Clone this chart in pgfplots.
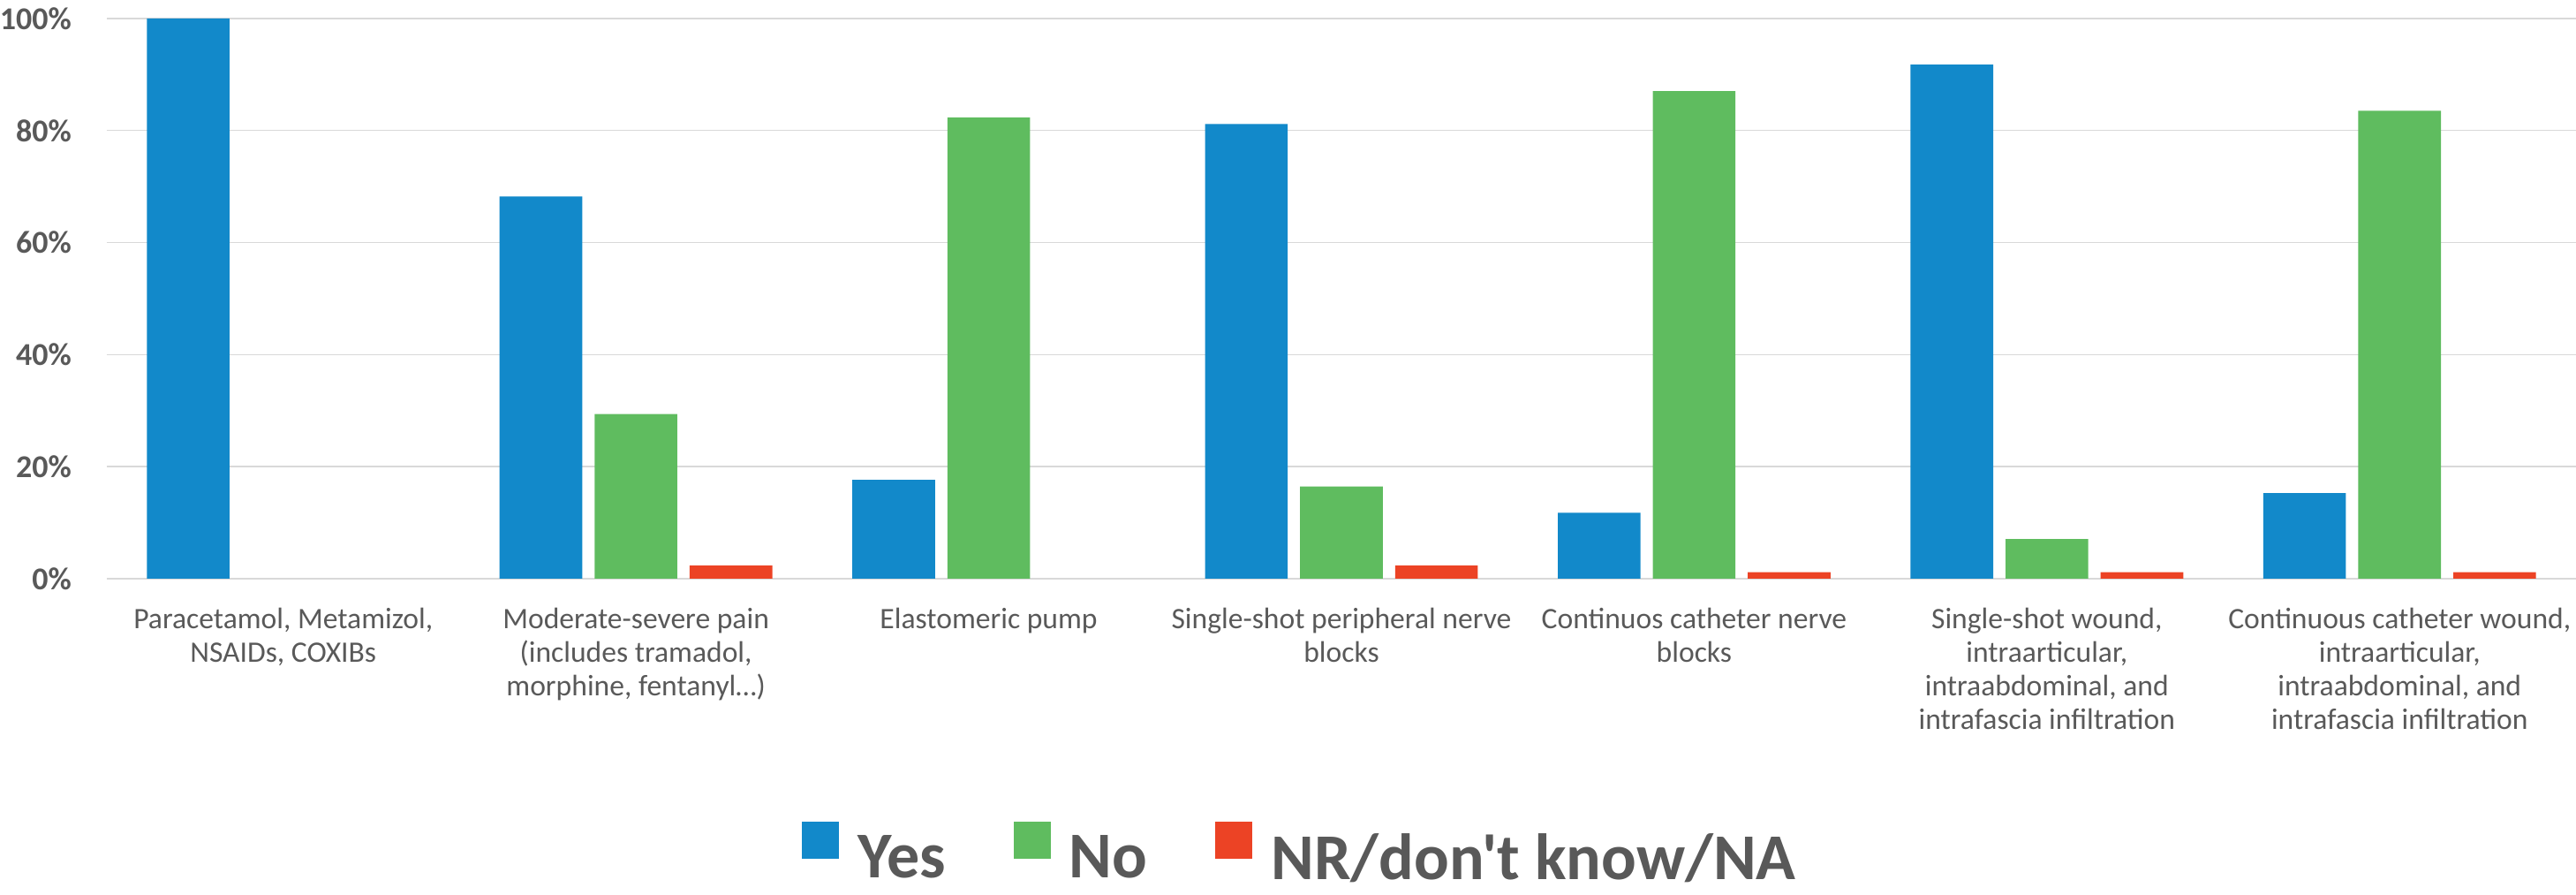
\documentclass[border=0pt]{standalone}
\usepackage{fontspec}
\setmainfont{Carlito}[Ligatures=TeXOff]
\usepackage{pgfplots}
\pgfplotsset{compat=1.18}
\definecolor{cYes}{HTML}{1289CA}
\definecolor{cNo}{HTML}{5FBC5F}
\definecolor{cNR}{HTML}{EC4325}
\definecolor{txt}{HTML}{595959}
\definecolor{gridc}{HTML}{D9D9D9}
\begin{document}
\begin{tikzpicture}
\begin{axis}[
  at={(0,0)}, anchor=south west,
  scale only axis, width=699pt, height=158.5pt,
  ybar=3.5pt, bar width=23.4pt,
  xmin=-0.5, xmax=6.5, ymin=0, ymax=100,
  xtick={0,...,6},
  xticklabels={{Paracetamol, Metamizol,\\NSAIDs, COXIBs},
               {Moderate-severe pain\\(includes tramadol,\\morphine, fentanyl…)},
               {Elastomeric pump},
               {Single-shot peripheral nerve\\blocks},
               {Continuos catheter nerve\\blocks},
               {Single-shot wound,\\intraarticular,\\intraabdominal, and\\intrafascia infiltration},
               {Continuous catheter wound,\\intraarticular,\\intraabdominal, and\\intrafascia infiltration}},
  ytick={0,20,...,100},
  yticklabel={\pgfmathprintnumber{\tick}\%},
  /pgf/number format/assume math mode=true,
  axis line style={draw=none},
  major tick length=0pt,
  ymajorgrids, grid style={gridc, line width=0.35pt},
  yticklabel style={font=\fontsize{9}{10}\selectfont\bfseries, text=txt, xshift=-6.5pt},
  xticklabel style={font=\fontsize{8.4}{9.5}\selectfont, text=txt, align=center, yshift=-4.75pt},
  legend style={at={(0.4828,-0.4905)}, anchor=center, draw=none, fill=none, inner sep=0pt,
    font=\fontsize{18.5}{20}\selectfont\bfseries, text=txt, nodes={inner sep=0pt},
    /tikz/every odd column/.append style={column sep=5.25pt},
    /tikz/every even column/.append style={column sep=19.25pt}},
  legend columns=-1,
  legend image code/.code={\fill[#1] (0pt,0pt) rectangle (10.5pt,10.5pt);},
]
\addplot[fill=cYes, draw=none] coordinates {(0,100) (1,68.24) (2,17.65) (3,81.18) (4,11.76) (5,91.76) (6,15.29)};
\addplot[fill=cNo, draw=none] coordinates {(1,29.41) (2,82.35) (3,16.47) (4,87.06) (5,7.06) (6,83.53)};
\addplot[fill=cNR, draw=none] coordinates {(1,2.35) (3,2.35) (4,1.18) (5,1.18) (6,1.18)};
\legend{Yes, No, NR/don't know/NA}
\end{axis}
\pgfresetboundingbox
\path (-30.25pt,-89.5pt) rectangle (699pt,163.75pt);
\end{tikzpicture}
\end{document}
